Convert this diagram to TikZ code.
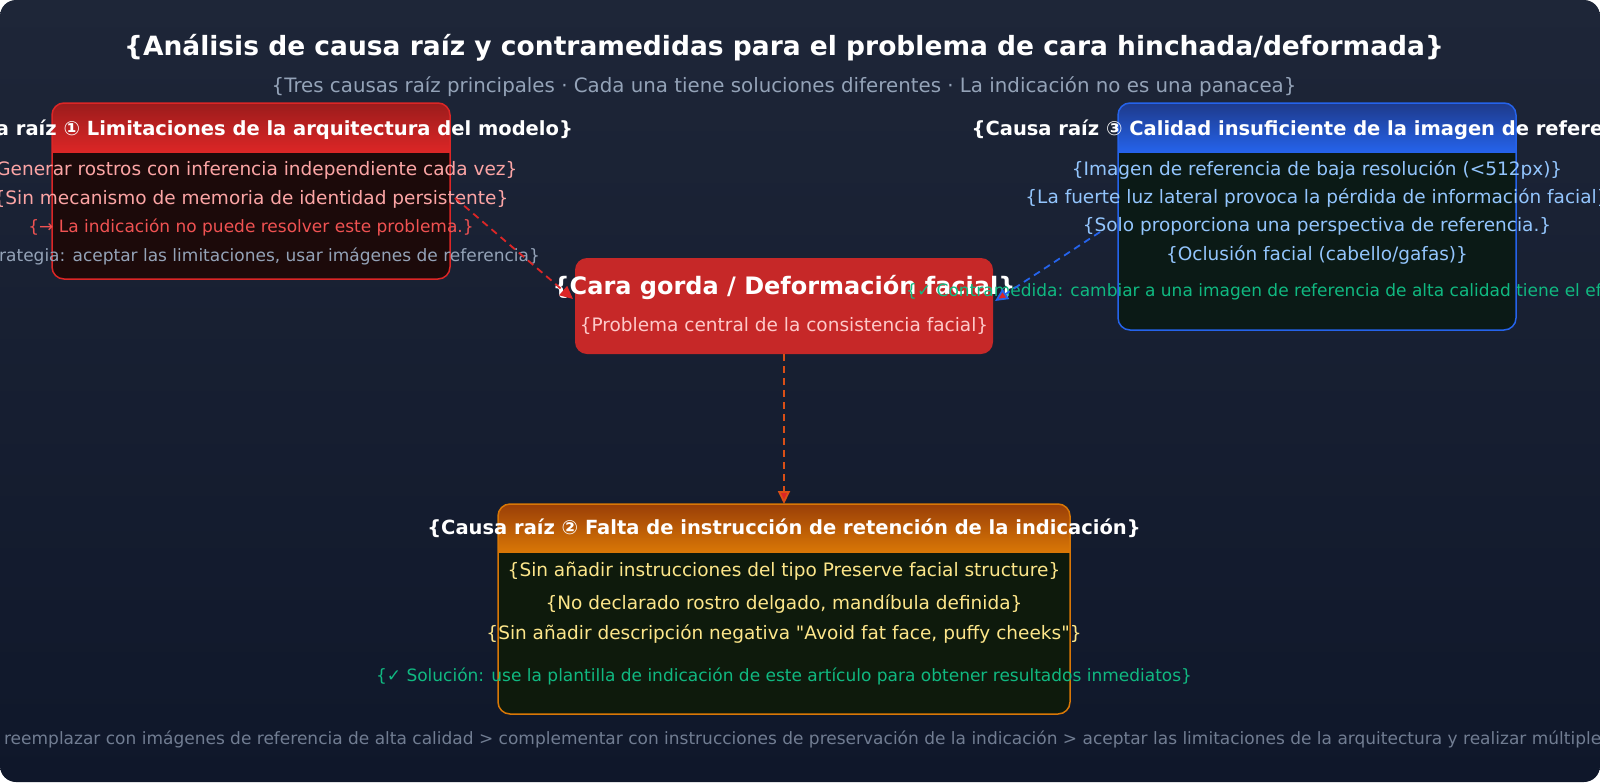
\documentclass[tikz,border=0pt]{standalone}
\usepackage{fontspec}
\setmainfont{DejaVu Sans}
\newfontfamily\plainf{DejaVu Sans}
\usetikzlibrary{arrows.meta}
\definecolor{bgA}{HTML}{0F172A}
\definecolor{bgB}{HTML}{1E2638}
\definecolor{redA}{HTML}{9B1C1C}
\definecolor{redB}{HTML}{DC2626}
\definecolor{redBody}{HTML}{1C0A0A}
\definecolor{blueA}{HTML}{1E3A8A}
\definecolor{blueB}{HTML}{2563EB}
\definecolor{blueBody}{HTML}{0B1A16}
\definecolor{orA}{HTML}{9A3F07}
\definecolor{orB}{HTML}{D97706}
\definecolor{orBody}{HTML}{0E1A0C}
\definecolor{pinkT}{HTML}{FCA5A5}
\definecolor{redT}{HTML}{F05252}
\definecolor{grayT}{HTML}{94A3B8}
\definecolor{blueT}{HTML}{93C5FD}
\definecolor{yelT}{HTML}{FDE68A}
\definecolor{greenT}{HTML}{10B981}
\definecolor{centR}{HTML}{C62828}
\begin{document}
\begin{tikzpicture}[x=1pt,y=-1pt,
  txt/.style={anchor=center,inner sep=0pt,font=\fontsize{18.5}{20}\selectfont},
  small/.style={font=\fontsize{17}{19}\selectfont},
  hdr/.style={anchor=center,inner sep=0pt,text=white,font=\fontsize{19.5}{22}\selectfont\bfseries},
  conn/.style={dashed,line width=1.8pt,dash pattern=on 7pt off 5pt,-{Triangle[length=13pt,width=12pt]}}]
\useasboundingbox (0,0) rectangle (1600,782);
\clip[rounded corners=16pt] (0,0) rectangle (1600,782);
\shade[top color=bgB,bottom color=bgA] (0,0) rectangle (1600,782);
\node[hdr,font=\fontsize{26.5}{30}\selectfont\bfseries] (title) at (784,48) {\{Análisis de causa raíz y contramedidas para el problema de cara hinchada/deformada\}};
\node[txt,text=grayT,font=\fontsize{19.8}{22}\selectfont] (sub) at (784,87) {\{Tres causas raíz principales · Cada una tiene soluciones diferentes · La indicación no es una panacea\}};
% left box
\begin{scope}
\clip[rounded corners=12pt] (52,103) rectangle (450,279);
\fill[redBody] (52,103) rectangle (450,279);
\shade[top color=redA,bottom color=redB] (52,103) rectangle (450,152);
\end{scope}
\draw[redB,line width=1.5pt,rounded corners=12pt] (52,103) rectangle (450,279);
\node[hdr] (lh) at (251,130) {\{Causa raíz ① Limitaciones de la arquitectura del modelo\}};
\node[txt,text=pinkT] (l1) at (251,170) {\{Generar rostros con inferencia independiente cada vez\}};
\node[txt,text=pinkT] (l2) at (251,199) {\{Sin mecanismo de memoria de identidad persistente\}};
\node[txt,small,text=redT] (l3) at (251,227) {\{→ La indicación no puede resolver este problema.\}};
\node[txt,small,text=grayT] (l4) at (251,256) {\{Estrategia: aceptar las limitaciones, usar imágenes de referencia\}};
\coordinate (lout) at (455,198);
% right box
\begin{scope}
\clip[rounded corners=12pt] (1118,103) rectangle (1516,330);
\fill[blueBody] (1118,103) rectangle (1516,330);
\shade[top color=blueA,bottom color=blueB] (1118,103) rectangle (1516,152);
\end{scope}
\draw[blueB,line width=1.5pt,rounded corners=12pt] (1118,103) rectangle (1516,330);
\node[hdr] (rh) at (1317,130) {\{Causa raíz ③ Calidad insuficiente de la imagen de referencia\}};
\node[txt,text=blueT] (r1) at (1317,170) {\{Imagen de referencia de baja resolución (<512px)\}};
\node[txt,text=blueT] (r2) at (1317,198) {\{La fuerte luz lateral provoca la pérdida de información facial\}};
\node[txt,text=blueT] (r3) at (1317,226) {\{Solo proporciona una perspectiva de referencia.\}};
\node[txt,text=blueT] (r4) at (1317,255) {\{Oclusión facial (cabello/gafas)\}};
\coordinate (rout) at (1100,232);
% center
\node[fill=centR,rounded corners=12pt,minimum width=418pt,minimum height=96pt,inner sep=0pt] (c) at (784,306) {};
\node[hdr,font=\fontsize{24}{27}\selectfont\bfseries] (ct) at (784,287) {\{Cara gorda / Deformación facial\}};
\node[txt,text=pinkT!60!white] (cs) at (784,326) {\{Problema central de la consistencia facial\}};
\node[txt,small,text=greenT,anchor=west] (r5) at (906,291) {\{✓ Contramedida: cambiar a una imagen de referencia de alta calidad tiene el efecto más notable\}};
% bottom box
\begin{scope}
\clip[rounded corners=12pt] (498,504) rectangle (1070,714);
\fill[orBody] (498,504) rectangle (1070,714);
\shade[top color=orA,bottom color=orB] (498,504) rectangle (1070,552);
\end{scope}
\draw[orB,line width=1.5pt,rounded corners=12pt] (498,504) rectangle (1070,714);
\node[hdr] (bh) at (784,528) {\{Causa raíz ② Falta de instrucción de retención de la indicación\}};
\node[txt,text=yelT] (b1) at (784,571) {\{Sin añadir instrucciones del tipo Preserve facial structure\}};
\node[txt,text=yelT] (b2) at (784,604) {\{No declarado rostro delgado, mandíbula definida\}};
\node[txt,text=yelT] (b3) at (784,634) {\plainf\{Sin añadir descripción negativa "Avoid fat face, puffy cheeks"\}};
\node[txt,small,text=greenT] (b4) at (784,676) {\{✓ Solución: use la plantilla de indicación de este artículo para obtener resultados inmediatos\}};
\coordinate (bin) at (784,504);
% footer
\node[txt,small,text=grayT!70!bgB] (foot) at (800,739) {\{Prioridad: reemplazar con imágenes de referencia de alta calidad > complementar con instrucciones de preservación de la indicación > aceptar las limitaciones de la arquitectura y realizar múltiples intentos\}};
% connectors
\draw[conn,draw=redB,-{Triangle[length=13pt,width=12pt,fill=redB]}] (lout) -- (573,299);
\draw[conn,draw=blueB,-{Triangle[length=13pt,width=12pt,fill=redB]}] (rout) -- (995,301);
\draw[conn,draw=orB!50!redB,-{Triangle[length=13pt,width=12pt,fill=redB]}] (c.south) -- (bin);
\end{tikzpicture}
\end{document}
